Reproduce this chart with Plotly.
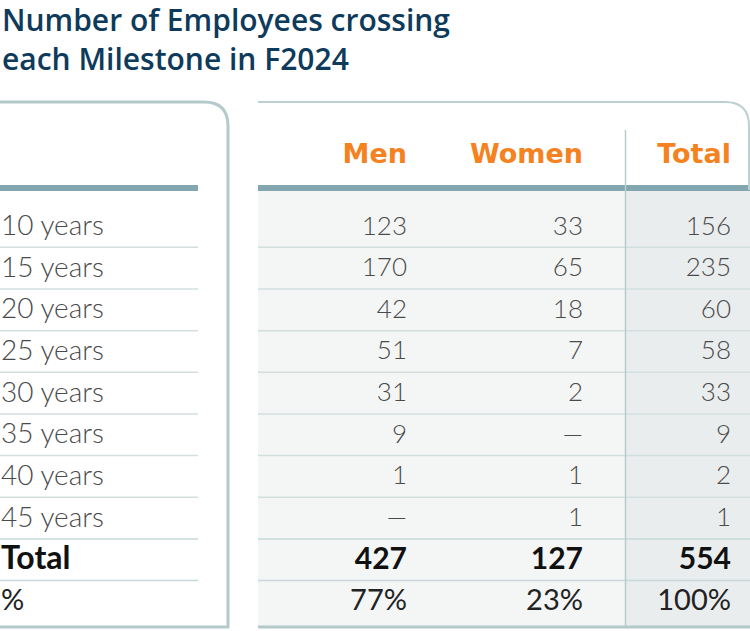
import plotly.graph_objects as go

# ---- data ----
title_lines = ["Number of Employees crossing", "each Milestone in F2024"]
milestones = ["10 years", "15 years", "20 years", "25 years", "30 years",
              "35 years", "40 years", "45 years"]
men = [123, 170, 42, 51, 31, 9, 1, None]
women = [33, 65, 18, 7, 2, None, 1, 1]
total = [156, 235, 60, 58, 33, 9, 2, 1]
columns = ["Men", "Women", "Total"]
total_row = [427, 127, 554]
pct_row = ["77%", "23%", "100%"]

W, H = 750, 631
row0 = 226
pitch = 41.65
n_rows = len(milestones) + 2
row_y = [row0 + pitch * i for i in range(n_rows)]
text_y = [y + 2 for y in row_y]
col_right = [407, 583, 731]

def fmt(v):
    return "\u2014" if v is None else str(v)

fig = go.Figure()
shapes = []

# right panel body background
shapes.append(dict(type="rect", x0=258, x1=750, y0=190, y1=627,
                   fillcolor="#f4f6f6", line=dict(width=0), layer="below"))
shapes.append(dict(type="rect", x0=626, x1=750, y0=190, y1=627,
                   fillcolor="#e9edee", line=dict(width=0), layer="below"))

# row separators
for i in range(1, n_rows):
    y = row_y[i] - pitch / 2 + 0.5
    col = "#d3dfdf" if i < n_rows - 2 else "#c7d8d8"
    shapes.append(dict(type="line", x0=0, x1=198, y0=y, y1=y,
                       line=dict(color=col, width=1.5)))
    shapes.append(dict(type="line", x0=258, x1=750, y0=y, y1=y,
                       line=dict(color=col, width=1.5)))

# header bars
shapes.append(dict(type="rect", x0=0, x1=198, y0=185, y1=191,
                   fillcolor="#82a7b0", line=dict(width=0)))
shapes.append(dict(type="rect", x0=258, x1=750, y0=185, y1=191,
                   fillcolor="#82a7b0", line=dict(width=0)))

# left panel outline with rounded top-right corner
r = 24
shapes.append(dict(type="path",
                   path=f"M 0 102 L {228 - r} 102 Q 228 102 228 {102 + r} L 228 627 L 0 627",
                   line=dict(color="#b4caca", width=3)))
# right panel outline
shapes.append(dict(type="path",
                   path=f"M 258 102 L {749 - r} 102 Q 749 102 749 {102 + r} L 749 190",
                   line=dict(color="#bcd0d0", width=2)))
shapes.append(dict(type="line", x0=258, x1=750, y0=627, y1=627,
                   line=dict(color="#b4caca", width=3)))
# vertical separator before Total column
shapes.append(dict(type="line", x0=625.5, x1=625.5, y0=130, y1=627,
                   line=dict(color="#b8cccc", width=1.5)))

# title (two lines in one text block)
annotations = [dict(x=1, y=39, xref="x", yref="y", xanchor="left", yanchor="middle",
                    text="<br>".join(title_lines), showarrow=False, align="left",
                    borderpad=0,
                    font=dict(family="Open Sans", size=30, color="#0e3a5b", weight=600))]

# headers
fig.add_trace(go.Scatter(x=col_right, y=[156] * 3, mode="text", text=columns,
                         textposition="middle left",
                         textfont=dict(family="DejaVu Sans", size=27, color="#f58220", weight=700),
                         hoverinfo="skip", showlegend=False))

label_font = dict(family="Lato", size=28, color="#4a4a4a", weight=300)
body_font = dict(family="Lato", size=26, color="#4a4a4a", weight=300)
bold_label_font = dict(family="Lato", size=32, color="#111111", weight=700)
bold_font = dict(family="Lato", size=30, color="#111111", weight=700)
pct_font = dict(family="Lato", size=29, color="#222222", weight=400)

# row labels
fig.add_trace(go.Scatter(x=[1] * len(milestones), y=text_y[:len(milestones)], mode="text",
                         text=milestones, textposition="middle right",
                         textfont=label_font, hoverinfo="skip", showlegend=False))
fig.add_trace(go.Scatter(x=[1], y=[text_y[8]], mode="text", text=["Total"],
                         textposition="middle right", textfont=bold_label_font,
                         hoverinfo="skip", showlegend=False))
fig.add_trace(go.Scatter(x=[1], y=[text_y[9]], mode="text", text=["%"],
                         textposition="middle right", textfont=pct_font,
                         hoverinfo="skip", showlegend=False))

# values
for cx, vals in zip(col_right, [men, women, total]):
    fig.add_trace(go.Scatter(x=[cx] * len(vals), y=text_y[:len(vals)], mode="text",
                             text=[fmt(v) for v in vals], textposition="middle left",
                             textfont=body_font, hoverinfo="skip", showlegend=False))
fig.add_trace(go.Scatter(x=col_right, y=[text_y[8]] * 3, mode="text",
                         text=[str(v) for v in total_row], textposition="middle left",
                         textfont=bold_font, hoverinfo="skip", showlegend=False))
fig.add_trace(go.Scatter(x=col_right, y=[text_y[9]] * 3, mode="text",
                         text=pct_row, textposition="middle left",
                         textfont=pct_font, hoverinfo="skip", showlegend=False))

fig.update_layout(
    width=W, height=H, margin=dict(l=0, r=0, t=0, b=0),
    paper_bgcolor="white", plot_bgcolor="white",
    xaxis=dict(range=[0, W], visible=False, fixedrange=True),
    yaxis=dict(range=[H, 0], visible=False, fixedrange=True),
    shapes=shapes, annotations=annotations, showlegend=False,
)
fig.write_html("out.html", config={"displayModeBar": False},
               post_script="document.body.style.margin='0';document.body.style.overflow='hidden';")
